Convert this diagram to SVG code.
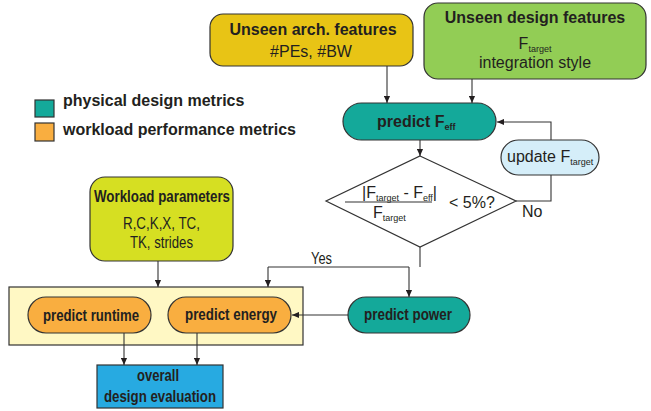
<svg xmlns="http://www.w3.org/2000/svg" width="651" height="411" viewBox="0 0 651 411">
<defs>
<marker id="ah" viewBox="0 0 8 8" refX="8" refY="4" markerWidth="7" markerHeight="7" markerUnits="userSpaceOnUse" orient="auto">
<path d="M0,0.5 L8,4 L0,7.5 Z" fill="#231F20"/>
</marker>
<style>
text{font-family:"Liberation Sans",Arial,sans-serif;fill:#231F20;font-size:16px}
.b{font-weight:bold}
.m{text-anchor:middle}
.n{font-size:17px}
.node{stroke:#333;stroke-width:1.2}
.c{fill:none;stroke:#333;stroke-width:1.1}
.ca{fill:none;stroke:#333;stroke-width:1.1;marker-end:url(#ah)}
.s{font-size:9px}
</style>
</defs>
<g id="legend">
<rect class="node" x="35" y="100" width="19" height="17" fill="#14A99A"/>
<text class="b" x="63" y="106">physical design metrics</text>
<rect class="node" x="35" y="123" width="19" height="18" fill="#F9AE40"/>
<text class="b" x="63" y="135">workload performance metrics</text>
</g>
<g id="arch">
<rect class="node" x="210" y="14" width="203" height="52" rx="13" fill="#E8C415"/>
<text class="b m" x="313" y="35">Unseen arch. features</text>
<text class="m" x="311" y="57">#PEs, #BW</text>
</g>
<g id="design">
<rect class="node" x="424" y="3" width="222" height="76" rx="14" fill="#92CD55"/>
<text class="b m" x="535" y="23">Unseen design features</text>
<text class="m" x="535" y="49">F<tspan class="s" dy="3">target</tspan></text>
<text class="m" x="535" y="68">integration style</text>
</g>
<g id="feff">
<rect class="node" x="343" y="103" width="153" height="37" rx="18.5" fill="#14A99A"/>
<text class="b" x="377" y="127">predict F<tspan class="s" dy="3">eff</tspan></text>
</g>
<g id="decision">
<polygon class="node" points="420,156 516,201 420,247 326,201" fill="#FFFFFF"/>
<text x="362" y="198">|F<tspan class="s" dy="3">target</tspan><tspan dy="-3"> - F</tspan><tspan class="s" dy="3">eff</tspan><tspan dy="-3">|</tspan></text>
<line x1="345" y1="202" x2="432" y2="202" stroke="#333" stroke-width="1.1"/>
<text x="373" y="218">F<tspan class="s" dy="3">target</tspan></text>
<text x="449" y="208">&lt; 5%?</text>
</g>
<g id="update">
<rect class="node" x="501" y="140" width="98" height="35" rx="17.5" fill="#D5EEF9"/>
<text x="507" y="162">update F<tspan class="s" dy="3">target</tspan></text>
</g>
<g id="workload">
<rect class="node" x="90" y="177" width="143" height="84" rx="15" fill="#D6DF22"/>
<text class="b n" x="94" y="202" textLength="136" lengthAdjust="spacingAndGlyphs">Workload parameters</text>
<text class="n" x="123" y="229" textLength="77" lengthAdjust="spacingAndGlyphs">R,C,K,X, TC,</text>
<text class="n" x="130" y="248" textLength="63" lengthAdjust="spacingAndGlyphs">TK, strides</text>
</g>
<g id="group">
<rect class="node" x="9" y="287" width="294" height="58" fill="#FFF8C4"/>
</g>
<g id="runtime">
<rect class="node" x="28" y="297" width="123" height="36" rx="18" fill="#F9AE40"/>
<text class="b n" x="43" y="321" textLength="96" lengthAdjust="spacingAndGlyphs">predict runtime</text>
</g>
<g id="energy">
<rect class="node" x="168" y="297" width="123" height="36" rx="18" fill="#F9AE40"/>
<text class="b n" x="185" y="320" textLength="92" lengthAdjust="spacingAndGlyphs">predict energy</text>
</g>
<g id="power">
<rect class="node" x="348" y="297" width="122" height="36" rx="18" fill="#14A99A"/>
<text class="b n" x="364" y="320" textLength="88" lengthAdjust="spacingAndGlyphs">predict power</text>
</g>
<g id="overall">
<rect class="node" x="97" y="365" width="126" height="43" fill="#27AAE1"/>
<text class="b n" x="137" y="381" textLength="42" lengthAdjust="spacingAndGlyphs">overall</text>
<text class="b n" x="104" y="402" textLength="112" lengthAdjust="spacingAndGlyphs">design evaluation</text>
</g>
<g id="connectors">
<path class="ca" d="M387,66 V103"/>
<path class="ca" d="M472,79 V103"/>
<path class="ca" d="M420,140 V156"/>
<path class="c" d="M516,201 H551 V175"/>
<path class="ca" d="M551,140 V122 H497"/>
<text x="522" y="217">No</text>
<path class="c" d="M420,247 V267 M268,267 H409"/>
<path class="ca" d="M268,267 V287"/>
<path class="ca" d="M409,267 V297"/>
<text class="n" x="311" y="264" textLength="21" lengthAdjust="spacingAndGlyphs">Yes</text>
<path class="ca" d="M158,261 V287"/>
<path class="ca" d="M348,315 H292"/>
<path class="ca" d="M124,333 V365"/>
<path class="ca" d="M197,333 V365"/>
</g>
</svg>
